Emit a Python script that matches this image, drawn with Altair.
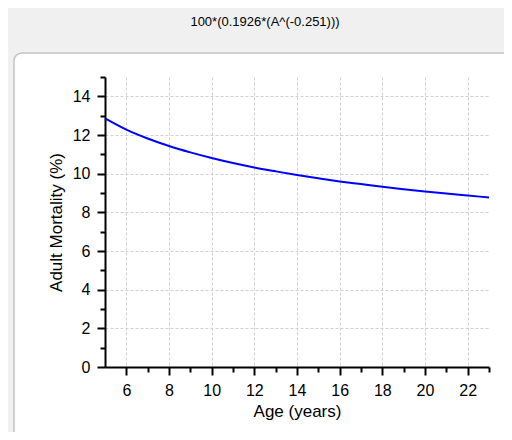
import altair as alt
import pandas as pd

# ---- data ----
ages = [5, 6, 7, 8, 9, 10, 11, 12, 13, 14, 15, 16, 17, 18, 19, 20, 21, 22, 23]
mortality = [12.86, 12.28, 11.82, 11.43, 11.10, 10.81, 10.55, 10.32, 10.12, 9.93,
             9.76, 9.60, 9.46, 9.32, 9.20, 9.08, 8.97, 8.87, 8.77]
x_ticks = [6, 7, 8, 9, 10, 11, 12, 13, 14, 15, 16, 17, 18, 19, 20, 21, 22, 23]
y_ticks = [0, 1, 2, 3, 4, 5, 6, 7, 8, 9, 10, 11, 12, 13, 14, 15]
x_domain = [5, 23]
y_domain = [0, 15]
title_text = "100*(0.1926*(A^(-0.251)))"
x_title = "Age (years)"
y_title = "Adult Mortality (%)"

df = pd.DataFrame({"age": ages, "mortality": mortality})

W, H = 384, 290
PAD = {"left": 97, "top": 69, "right": 15, "bottom": 65}
FONT = "Liberation Sans"
GRAY = "#f0f0f0"
EVEN = "datum.value % 2 === 0"


def make_axis(values, title, title_pad):
    return alt.Axis(
        values=values, title=title, grid=True,
        gridColor="#d0d0d0", gridDash=[3, 2], gridWidth=1,
        gridOpacity={"condition": {"test": EVEN, "value": 1}, "value": 0},
        tickSize={"condition": {"test": EVEN, "value": 8}, "value": 5},
        tickColor="black", tickWidth=2,
        domainColor="black", domainWidth=2,
        labelExpr=f"{EVEN} ? datum.label : ''",
        labelFont=FONT, labelFontSize=16, labelColor="black", labelPadding=7,
        labelFlush=False, labelOverlap=False,
        titleFont=FONT, titleFontSize=17, titleFontWeight="normal",
        titleColor="black", titlePadding=title_pad,
    )


one = pd.DataFrame({"k": [0]})
base = alt.Chart(one)

top_band = base.mark_rect(fill=GRAY).encode(
    x=alt.value(-PAD["left"]), x2=alt.value(W + PAD["right"]),
    y=alt.value(-PAD["top"]), y2=alt.value(-24))
left_strip = base.mark_rect(fill=GRAY).encode(
    x=alt.value(-PAD["left"]), x2=alt.value(-91),
    y=alt.value(-24), y2=alt.value(H + PAD["bottom"]))
corner_gray = base.mark_rect(fill=GRAY).encode(
    x=alt.value(-91), x2=alt.value(-81), y=alt.value(-24), y2=alt.value(-14))
corner_white = base.mark_rect(fill="white", cornerRadius=8).encode(
    x=alt.value(-91), x2=alt.value(-50), y=alt.value(-24), y2=alt.value(-5))
border = base.mark_rect(fillOpacity=0, stroke="#c2c2c2", strokeWidth=1.5,
                        cornerRadius=8).encode(
    x=alt.value(-91), x2=alt.value(W + 60), y=alt.value(-24), y2=alt.value(H + 120))

title = base.mark_text(text=title_text, font=FONT, fontSize=13, color="black",
                       align="center", baseline="middle").encode(
    x=alt.value(160), y=alt.value(-55))

line = alt.Chart(df).mark_line(color="#0000ff", strokeWidth=2, interpolate="monotone").encode(
    x=alt.X("age:Q", scale=alt.Scale(domain=x_domain, nice=False, zero=False),
            axis=make_axis(x_ticks, x_title, 5)),
    y=alt.Y("mortality:Q", scale=alt.Scale(domain=y_domain, nice=False, zero=False),
            axis=make_axis(y_ticks, y_title, 7)),
)

chart = alt.layer(top_band, left_strip, corner_gray, corner_white, line, border, title).properties(
    width=W, height=H, padding=PAD, background="white",
    autosize=alt.AutoSizeParams(type="none"),
).configure_view(stroke="transparent")

chart.save("out.html", embed_options={"renderer": "svg", "actions": False})
